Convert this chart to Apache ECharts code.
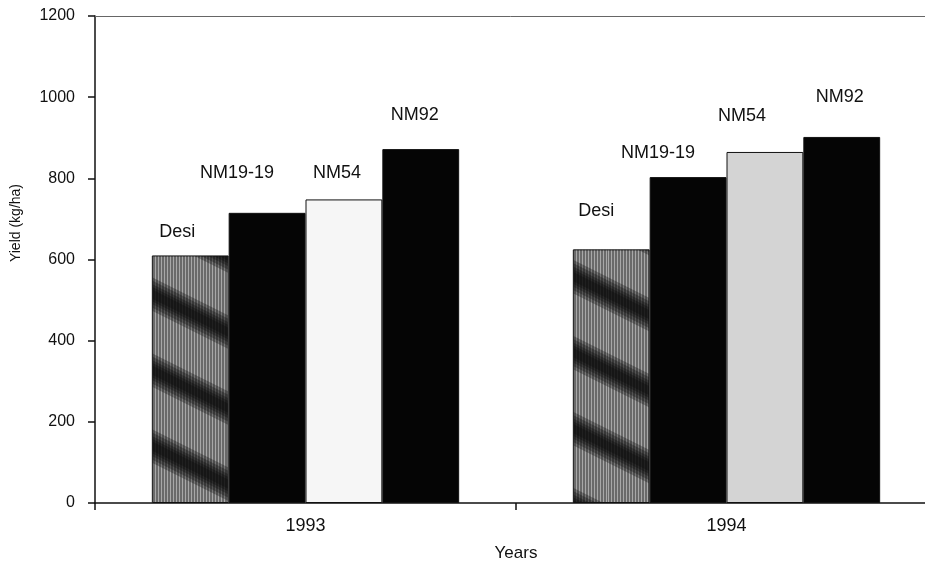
<!DOCTYPE html>
<html>
<head>
<meta charset="utf-8">
<script src="https://cdn.jsdelivr.net/npm/echarts@6/dist/echarts.min.js"></script>
<style>
  html, body { margin: 0; padding: 0; background: #fff; }
  #chart { width: 925px; height: 563px; }
</style>
</head>
<body>
<div id="chart"></div>
<script>
// data
const years = ['1993', '1994'];
const varieties = ['Desi', 'NM19-19', 'NM54', 'NM92'];
const desi = [610, 625];
const nm1919 = [715, 803];
const nm54 = [748, 865];
const nm92 = [872, 902];
const yTicks = { min: 0, max: 1200, step: 200 };

// label nudges (px), one per bar, same order as years
const labelShift = {
  'Desi': [[-13, -9], [-15, -24]],
  'NM19-19': [[-30, -26], [-30, -10]],
  'NM54': [[-7, -12], [-23, -22]],
  'NM92': [[-6, -20], [-2, -26]]
};

// scanned grey fill with dark diagonal bands (tile wraps seamlessly)
function desiPattern() {
  const c = document.createElement('canvas');
  c.width = 152; c.height = 76;
  const ctx = c.getContext('2d');
  ctx.fillStyle = '#6a6a6a';
  ctx.fillRect(0, 0, c.width, c.height);
  ctx.fillStyle = '#a8a8a8';
  for (let x = 0; x < c.width; x += 3) ctx.fillRect(x, 0, 1, c.height);
  const widths = [30, 24, 18, 13, 8];
  widths.forEach(function (w) {
    ctx.strokeStyle = 'rgba(8,8,8,0.3)';
    ctx.lineWidth = w;
    for (let k = -2; k <= 2; k++) {
      ctx.beginPath();
      ctx.moveTo(-40, -30 + k * 76);
      ctx.lineTo(c.width + 40, 86 + k * 76);
      ctx.stroke();
    }
  });
  return c;
}

let myChart = echarts.init(document.getElementById('chart'));

const pat = desiPattern();
const fills = {
  'Desi': [{ image: pat, repeat: 'repeat' }, { image: pat, repeat: 'repeat' }],
  'NM19-19': ['#050505', '#050505'],
  'NM54': ['#f6f6f6', '#d4d4d4'],
  'NM92': ['#050505', '#050505']
};
const values = { 'Desi': desi, 'NM19-19': nm1919, 'NM54': nm54, 'NM92': nm92 };

const series = varieties.map(function (name) {
  return {
    name: name,
    type: 'bar',
    barGap: '0%',
    barCategoryGap: '27%',
    itemStyle: { borderColor: '#111', borderWidth: 1 },
    label: {
      show: true,
      position: 'top',
      formatter: '{a}',
      color: '#111',
      fontSize: 18,
      fontFamily: 'Liberation Sans, Arial, sans-serif'
    },
    data: values[name].map(function (v, i) {
      return {
        value: v,
        itemStyle: { color: fills[name][i] },
        label: { offset: labelShift[name][i] }
      };
    })
  };
});

let option = {
  animation: false,
  backgroundColor: '#fff',
  textStyle: { fontFamily: 'Liberation Sans, Arial, sans-serif', color: '#111' },
  grid: { left: 95, top: 16, width: 842, height: 487, outerBoundsMode: 'none', containLabel: false },
  xAxis: [
    {
      type: 'category',
      data: years,
      name: 'Years',
      nameLocation: 'middle',
      nameGap: 42,
      nameTextStyle: { fontSize: 17, color: '#111' },
      axisLine: { lineStyle: { color: '#111', width: 1.5 } },
      axisTick: { show: true, length: 7, lineStyle: { color: '#111', width: 1.5 } },
      axisLabel: { fontSize: 18, color: '#111', margin: 14 }
    },
    {
      type: 'category',
      data: years,
      position: 'top',
      axisLine: { lineStyle: { color: '#666', width: 1 } },
      axisTick: { show: false },
      axisLabel: { show: false }
    }
  ],
  yAxis: {
    type: 'value',
    min: yTicks.min,
    max: yTicks.max,
    interval: yTicks.step,
    axisLine: { show: true, lineStyle: { color: '#111', width: 1.5 } },
    axisTick: { show: true, length: 7, lineStyle: { color: '#111', width: 1.5 } },
    axisLabel: { fontSize: 16, color: '#111', margin: 20, formatter: function (v) { return String(v); } },
    splitLine: { show: false }
  },
  graphic: [
    {
      type: 'text',
      left: 9,
      top: 184,
      rotation: Math.PI / 2,
      style: {
        text: 'Yield (kg/ha)',
        fontSize: 14,
        fill: '#111',
        fontFamily: 'Liberation Sans, Arial, sans-serif'
      }
    }
  ],
  series: series
};

myChart.setOption(option);
window.addEventListener('resize', function () {
  myChart.resize();
});
</script>
</body>
</html>
